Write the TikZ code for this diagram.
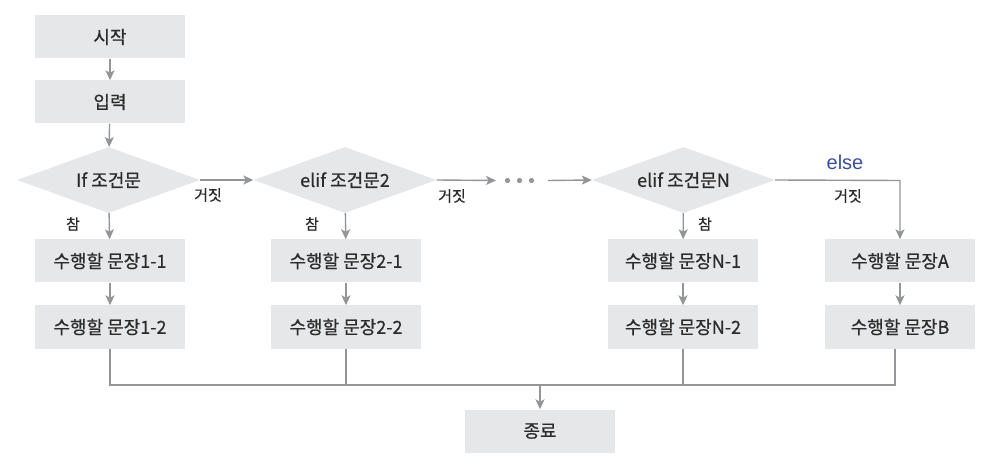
\documentclass[tikz,border=0pt]{standalone}
\usepackage{fontspec}
\setmainfont{Noto Sans CJK KR}[FakeBold=0.6]
\newfontfamily\elsefont{Liberation Sans}
\usetikzlibrary{shapes.geometric,arrows.meta}
\definecolor{boxgray}{HTML}{E6E7E8}
\definecolor{linegray}{HTML}{939598}
\definecolor{txt}{HTML}{2B2B2B}
\definecolor{elseblue}{HTML}{3A4FA0}
\tikzset{
  stepbox/.style={fill=boxgray, draw=none, minimum width=150pt, minimum height=43pt, inner sep=0pt, text=txt, font=\fontsize{18}{18}\selectfont},
  cond/.style={diamond, fill=boxgray, draw=none, aspect=2.77, minimum width=183pt, minimum height=66pt, inner sep=0pt, text=txt, font=\fontsize{18}{18}\selectfont},
  arr/.style={draw=linegray, line width=1.4pt, -{Stealth[length=10pt,width=9pt,inset=2.5pt]}},
  ln/.style={draw=linegray, line width=1.4pt},
  lbl/.style={text=txt, font=\fontsize{15}{15}\selectfont, inner sep=0pt},
}
\begin{document}
\begin{tikzpicture}[x=1pt,y=-1pt]
\useasboundingbox (0,0) rectangle (1002,465);
% nodes
\node[stepbox] (start) at (110,37) {시작};
\node[stepbox] (input) at (110,102) {입력};
\node[cond] (d1) at (108.5,180) {If 조건문};
\node[cond] (d2) at (345,180) {elif 조건문2};
\node[cond] (dN) at (683.5,180) {elif 조건문N};
\node[stepbox] (b11) at (110,261) {수행할 문장1-1};
\node[stepbox] (b12) at (110,327) {수행할 문장1-2};
\node[stepbox] (b21) at (346,261) {수행할 문장2-1};
\node[stepbox] (b22) at (346,327) {수행할 문장2-2};
\node[stepbox] (bN1) at (683,261) {수행할 문장N-1};
\node[stepbox] (bN2) at (683,327) {수행할 문장N-2};
\node[stepbox] (bA) at (900,261) {수행할 문장A};
\node[stepbox] (bB) at (900,327) {수행할 문장B};
\node[stepbox] (end) at (540,431) {종료};
% dots
\coordinate (dotsL) at (496,180.5);
\coordinate (dotsR) at (548,180.5);
\foreach \x in {507.5,519.5,531.5} \fill[linegray] (\x,180.5) circle (2.6pt);
\coordinate (merge) at (540,385);
\coordinate (elseCorner) at (900,180.5);
% connectors
\draw[arr] (start) -- (input);
\draw[arr] (input) -- (d1);
\draw[arr] (d1) -- (b11);
\draw[arr] (b11) -- (b12);
\draw[arr] (d2) -- (b21);
\draw[arr] (b21) -- (b22);
\draw[arr] (dN) -- (bN1);
\draw[arr] (bN1) -- (bN2);
\draw[arr] (bA) -- (bB);
\draw[arr] (d1.east) -- (d2.west);
\draw[arr] (d2.east) -- (dotsL);
\draw[arr] (dotsR) -- (dN.west);
\draw[arr] (dN.east) -- (elseCorner) -- (bA.north);
\draw[ln] (b12.south) |- (merge);
\draw[ln] (b22.south) |- (merge);
\draw[ln] (bN2.south) |- (merge);
\draw[ln] ([xshift=-5pt]bB.south) |- (merge);
\draw[arr] (merge) -- (end);
% labels
\node[lbl] (f1) at (208,195) {거짓};
\node[lbl] (f2) at (452,196) {거짓};
\node[lbl] (f3) at (848,196) {거짓};
\node[lbl] (t1) at (73,224) {참};
\node[lbl] (t2) at (312,224) {참};
\node[lbl] (t3) at (705,224) {참};
\node[lbl, text=elseblue, font=\elsefont\fontsize{20}{20}\selectfont] (els) at (845,162) {else};
\end{tikzpicture}
\end{document}
